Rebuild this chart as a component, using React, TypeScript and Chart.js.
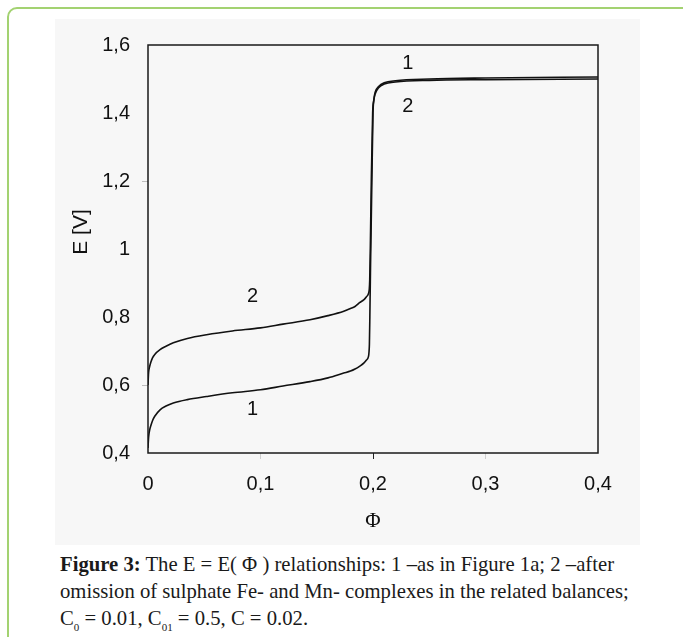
import React, { useEffect, useRef } from "react";
import { Chart, registerables } from "chart.js";

Chart.register(...registerables);

// Curve 1 – as in Figure 1a
const phi1 = [0, 0.0004, 0.0007, 0.0015, 0.0025, 0.004, 0.006, 0.0107, 0.016, 0.0225, 0.035, 0.052, 0.075, 0.1, 0.12, 0.144, 0.16, 0.174, 0.18, 0.184, 0.188, 0.192, 0.194, 0.196, 0.1964, 0.1968, 0.1972, 0.1978, 0.199, 0.2, 0.2008, 0.202, 0.205, 0.21, 0.22, 0.25, 0.3, 0.4];
const e1 = [0.415, 0.44, 0.452, 0.468, 0.48, 0.495, 0.508, 0.527, 0.538, 0.547, 0.557, 0.566, 0.577, 0.586, 0.597, 0.61, 0.621, 0.635, 0.641, 0.647, 0.655, 0.665, 0.673, 0.684, 0.695, 0.72, 0.8, 0.95, 1.2, 1.4, 1.44, 1.462, 1.478, 1.489, 1.495, 1.5, 1.503, 1.506];

// Curve 2 – after omission of sulphate complexes
const phi2 = [0, 0.0004, 0.0007, 0.0015, 0.0025, 0.004, 0.006, 0.0107, 0.016, 0.0225, 0.035, 0.052, 0.075, 0.1, 0.12, 0.144, 0.16, 0.174, 0.18, 0.184, 0.188, 0.192, 0.194, 0.196, 0.1967, 0.1971, 0.1976, 0.1985, 0.1997, 0.2006, 0.2018, 0.205, 0.21, 0.22, 0.25, 0.3, 0.4];
const e2 = [0.6, 0.63, 0.642, 0.655, 0.667, 0.68, 0.69, 0.704, 0.714, 0.724, 0.737, 0.748, 0.759, 0.768, 0.779, 0.792, 0.804, 0.817, 0.825, 0.831, 0.842, 0.851, 0.859, 0.869, 0.882, 0.91, 1.0, 1.2, 1.4, 1.435, 1.455, 1.474, 1.485, 1.491, 1.496, 1.498, 1.5];

// Curve labels (text, Φ, E)
const curveLabels = ["1", "2", "2", "1"];
const curveLabelPhi = [0.231, 0.231, 0.093, 0.093];
const curveLabelE = [1.547, 1.42, 0.86, 0.527];

const xTicks = [0, 0.1, 0.2, 0.3, 0.4];
const yTicks = [0.4, 0.6, 0.8, 1.0, 1.2, 1.4, 1.6];

const SANS = "'Liberation Sans', Arial, sans-serif";
const SERIF = "'Liberation Serif', 'Times New Roman', serif";

const fmt = (v: number) => String(Number(v.toFixed(1))).replace(".", ",");

const near = (a: number, b: number) => Math.abs(a - b) < 1e-6;

const decorPlugin = {
  id: "decor",
  afterDraw(chart: any) {
    const { ctx, chartArea, scales } = chart;
    ctx.save();
    // frame
    ctx.strokeStyle = "#1a1a1a";
    ctx.lineWidth = 1.5;
    ctx.strokeRect(chartArea.left, chartArea.top, chartArea.right - chartArea.left, chartArea.bottom - chartArea.top);
    // curve labels
    ctx.fillStyle = "#111";
    ctx.font = `20px ${SANS}`;
    ctx.textAlign = "center";
    ctx.textBaseline = "middle";
    curveLabels.forEach((t, i) => {
      ctx.fillText(t, scales.x.getPixelForValue(curveLabelPhi[i]), scales.y.getPixelForValue(curveLabelE[i]));
    });
    // y axis title
    ctx.font = `21px ${SANS}`;
    ctx.translate(26, (chartArea.top + chartArea.bottom) / 2 - 17);
    ctx.rotate(-Math.PI / 2);
    ctx.fillText("E [V]", 0, 0);
    ctx.restore();
  },
};

export default function App() {
  const ref = useRef<HTMLCanvasElement>(null);

  useEffect(() => {
    if (!ref.current) return;
    const chart = new Chart(ref.current, {
      type: "line",
      data: {
        datasets: [
          {
            label: "1",
            data: phi1.map((x, i) => ({ x, y: e1[i] })),
            borderColor: "#111",
            borderWidth: 1.6,
            pointRadius: 0,
            cubicInterpolationMode: "monotone",
            fill: false,
          },
          {
            label: "2",
            data: phi2.map((x, i) => ({ x, y: e2[i] })),
            borderColor: "#111",
            borderWidth: 1.6,
            pointRadius: 0,
            cubicInterpolationMode: "monotone",
            fill: false,
          },
        ],
      },
      options: {
        animation: false,
        responsive: false,
        devicePixelRatio: 1,
        layout: { padding: { top: 26, right: 42, left: 0, bottom: 0 } },
        plugins: { legend: { display: false }, tooltip: { enabled: false } },
        scales: {
          x: {
            type: "linear",
            min: 0,
            max: 0.4,
            afterBuildTicks: (s: any) => {
              s.ticks = xTicks.map((v) => ({ value: v }));
            },
            afterFit: (s: any) => {
              s.height = 92;
            },
            ticks: {
              callback: (v: any) => fmt(Number(v)),
              font: { family: SANS, size: 20 },
              color: "#111",
              padding: 13,
              maxRotation: 0,
            },
            grid: {
              drawOnChartArea: false,
              drawTicks: true,
              tickLength: 6,
              color: (c: any) => {
                const v = c.tick ? c.tick.value : -1;
                if (near(v, 0.2)) return "#222";
                if (near(v, 0.1) || near(v, 0.3)) return "#cfcfcf";
                return "rgba(0,0,0,0)";
              },
            },
            border: { display: false },
            title: {
              display: true,
              text: "Φ",
              font: { family: SERIF, size: 21 },
              color: "#111",
              padding: { top: 0, bottom: 11 },
            },
          },
          y: {
            type: "linear",
            min: 0.4,
            max: 1.6,
            afterBuildTicks: (s: any) => {
              s.ticks = yTicks.map((v) => ({ value: v }));
            },
            afterFit: (s: any) => {
              s.width = 93;
            },
            ticks: {
              callback: (v: any) => fmt(Number(v)),
              font: { family: SANS, size: 20 },
              color: "#111",
              padding: 12,
            },
            grid: {
              drawOnChartArea: false,
              drawTicks: true,
              tickLength: 6,
              color: (c: any) => {
                const v = c.tick ? c.tick.value : -1;
                if (near(v, 1.2) || near(v, 0.6)) return "#bdbdbd";
                return "rgba(0,0,0,0)";
              },
            },
            border: { display: false },
          },
        },
      },
      plugins: [decorPlugin],
    } as any);
    return () => chart.destroy();
  }, []);

  const subStyle = { fontSize: 11, verticalAlign: "-6px", lineHeight: 0 } as const;

  return (
    <div style={{ position: "absolute", left: 0, top: 0, width: 683, height: 637, overflow: "hidden", background: "#fff" }}>
      <div
        style={{
          position: "absolute",
          left: 7,
          top: 7,
          width: 720,
          height: 700,
          border: "2px solid #a3d271",
          borderRadius: 10,
        }}
      />
      <div style={{ position: "absolute", left: 55, top: 19, width: 585, height: 526, background: "#f7f7f7" }}>
        <canvas ref={ref} width={585} height={526} style={{ display: "block", width: 585, height: 526 }} />
      </div>
      <div
        style={{
          position: "absolute",
          left: 60,
          top: 551,
          width: 620,
          fontFamily: SERIF,
          fontSize: 20.7,
          lineHeight: "27px",
          color: "#1a1a1a",
          whiteSpace: "nowrap",
        }}
      >
        <b>Figure 3:</b> The E = E( Φ ) relationships: 1 –as in Figure 1a; 2 –after
        <br />
        omission of sulphate Fe- and Mn- complexes in the related balances;
        <br />
        C<sub style={subStyle}>0</sub> = 0.01, C<sub style={subStyle}>01</sub> = 0.5, C = 0.02.
      </div>
    </div>
  );
}
